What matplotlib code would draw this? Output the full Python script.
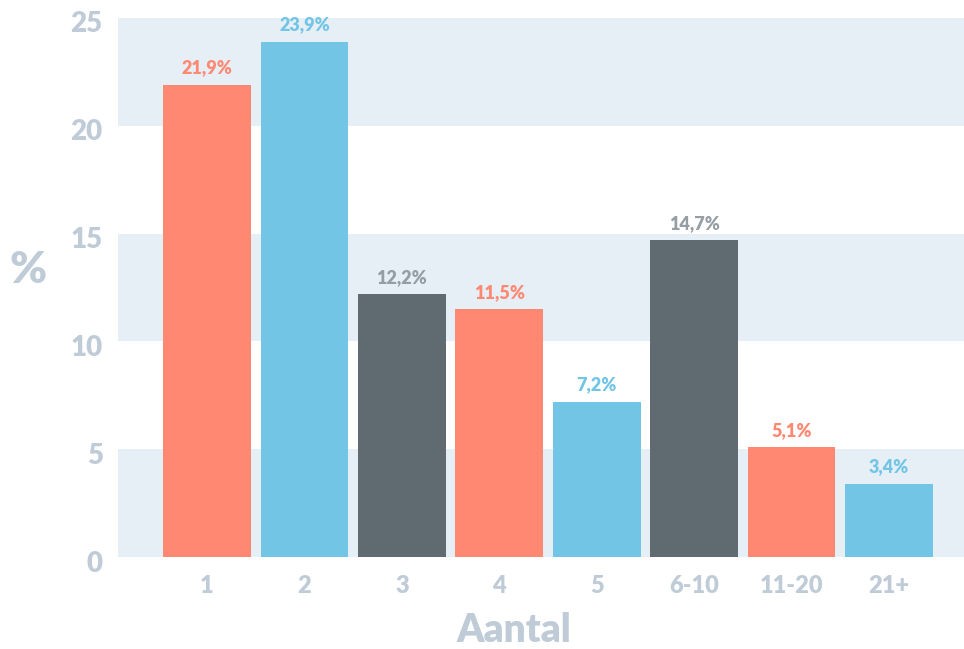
import matplotlib
matplotlib.use("Agg")
import matplotlib.pyplot as plt
from matplotlib.transforms import ScaledTranslation

categories = ["1", "2", "3", "4", "5", "6-10", "11-20", "21+"]
values = [21.9, 23.9, 12.2, 11.5, 7.2, 14.7, 5.1, 3.4]
value_labels = ["21,9%", "23,9%", "12,2%", "11,5%", "7,2%", "14,7%", "5,1%", "3,4%"]
y_ticks = [0, 5, 10, 15, 20, 25]

CORAL = "#FF8873"
BLUE = "#72C5E5"
SLATE = "#5F6A71"
bar_colors = [CORAL, BLUE, SLATE, CORAL, BLUE, SLATE, CORAL, BLUE]
text_colors = [CORAL, BLUE, "#959ea4", CORAL, BLUE, "#959ea4", CORAL, BLUE]
AXIS_TEXT = "#BFCCD7"
BAND = "#E6EEF6"
WEIGHT = "heavy"

plt.rcParams["font.family"] = ["Lato", "DejaVu Sans"]

fig = plt.figure(figsize=(9.64, 6.49), dpi=100)
ax = fig.add_axes([118 / 964, (649 - 557) / 649, (964 - 118) / 964, (557 - 18) / 649])

# alternating horizontal bands
for lo in (0, 10, 20):
    ax.axhspan(lo, lo + 5, color=BAND, lw=0, zorder=0)

x = list(range(len(categories)))
ax.bar(x, values, width=0.9, color=bar_colors, zorder=2)

for xi, v, lab, c in zip(x, values, value_labels, text_colors):
    ax.annotate(lab, (xi, v), xytext=(0, 6), textcoords="offset points",
                ha="center", va="bottom", fontsize=13, fontweight=WEIGHT, color=c)

ax.set_xlim(-0.913, 7.77)
ax.set_ylim(0, 25)
ax.set_yticks(y_ticks)
ax.set_xticks(x)
ax.set_xticklabels(categories)

for s in ax.spines.values():
    s.set_visible(False)
ax.tick_params(length=0)
ax.tick_params(axis="y", pad=11, labelsize=20, labelcolor=AXIS_TEXT)
ax.tick_params(axis="x", pad=13, labelsize=17, labelcolor=AXIS_TEXT)
for t in ax.get_xticklabels() + ax.get_yticklabels():
    t.set_fontweight(WEIGHT)

# nudge y tick labels slightly downward
shift = ScaledTranslation(0, -4 / 100, fig.dpi_scale_trans)
for t in ax.get_yticklabels():
    t.set_transform(t.get_transform() + shift)

fig.text(28 / 964, 1 - 270 / 649, "%", ha="center", va="center",
         fontsize=32, fontweight=WEIGHT, color=AXIS_TEXT)
fig.text(514 / 964, 1 - 630 / 649, "Aantal", ha="center", va="center",
         fontsize=28, fontweight=WEIGHT, color=AXIS_TEXT)

fig.savefig("out.png", dpi=100, facecolor="white")
